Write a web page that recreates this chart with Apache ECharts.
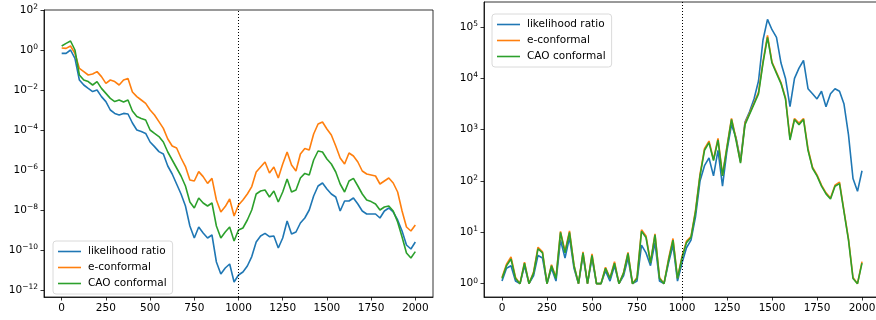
<!DOCTYPE html>
<html>
<head>
<meta charset="utf-8">
<script src="https://cdn.jsdelivr.net/npm/echarts@6.0.0/dist/echarts.min.js"></script>
<style>
  html, body { margin: 0; padding: 0; background: #fff; }
  #chart { width: 876px; height: 320px; }
</style>
</head>
<body>
<div id="chart"></div>
<script>
// time steps (x) shared by all series
const steps = [0,25,50,75,100,125,150,175,200,225,250,275,300,325,350,375,400,425,450,475,
  500,525,550,575,600,625,650,675,700,725,750,775,800,825,850,875,900,925,950,975,
  1000,1025,1050,1075,1100,1125,1150,1175,1200,1225,1250,1275,1300,1325,1350,1375,1400,1425,1450,1475,
  1500,1525,1550,1575,1600,1625,1650,1675,1700,1725,1750,1775,1800,1825,1850,1875,1900,1925,1950,1975,2000]

const names = ['likelihood ratio', 'e-conformal', 'CAO conformal']
const colors = ['#1f77b4', '#ff7f0e', '#2ca02c']

// left panel, values as powers of ten (log10 of the value)
const leftLR = [-0.17,-0.17,0,-0.42,-1.5,-1.75,-1.92,-2.08,-2,-2.33,
  -2.58,-3,-3.17,-3.25,-3.17,-3.2,-3.65,-4,-4.08,-4.17,
  -4.6,-4.83,-5.08,-5.2,-5.8,-6.2,-6.7,-7.2,-7.8,-8.8,
  -9.4,-8.85,-9.15,-9.4,-9.25,-10.6,-11.2,-10.9,-10.7,-11.6,
  -11.25,-11.1,-10.8,-10.33,-9.6,-9.3,-9.17,-9.33,-9.3,-9.9,
  -9.4,-8.55,-9.2,-9.1,-8.65,-8.4,-8,-7.3,-6.8,-6.65,
  -6.95,-7.2,-7.35,-8.05,-7.55,-7.55,-7.4,-7.7,-8.05,-8.2,
  -8.2,-8.2,-8.4,-8.05,-7.9,-8.1,-8.5,-9.05,-9.75,-9.95,
  -9.6]
const leftE = [0.1,0.08,0.2,-0.17,-0.92,-1.08,-1.25,-1.2,-1.08,-1.33,
  -1.67,-1.5,-1.58,-1.75,-1.5,-1.42,-2.1,-2.33,-2.5,-2.67,
  -3,-3.25,-3.58,-3.92,-4.45,-4.8,-4.9,-5.4,-5.83,-6.5,
  -6.55,-6.08,-6.33,-6.67,-6.42,-7.5,-8.1,-7.83,-7.45,-8.3,
  -7.75,-7.5,-7.2,-6.83,-6.1,-5.85,-5.6,-6.15,-5.85,-6.4,
  -5.7,-5.1,-5.75,-6.05,-5.2,-4.92,-5,-4.2,-3.7,-3.6,
  -3.95,-4.25,-4.8,-5.4,-5.7,-5.15,-5.3,-5.6,-6.05,-6.2,
  -6.25,-6.3,-6.7,-6.55,-6.4,-6.65,-7.1,-8.05,-8.85,-9.05,
  -8.75]
const leftCAO = [0.2,0.33,0.45,0,-1.25,-1.5,-1.58,-1.75,-1.58,-1.92,
  -2.17,-2.42,-2.58,-2.5,-2.6,-2.5,-3.05,-3.33,-3.42,-3.5,
  -4,-4.17,-4.33,-4.6,-5.1,-5.5,-5.9,-6.3,-6.8,-7.6,
  -7.9,-7.4,-7.65,-7.8,-7.65,-8.8,-9.4,-9.1,-8.85,-9.55,
  -9,-8.9,-8.5,-8,-7.2,-7.05,-7,-7.35,-7.05,-7.6,
  -7.1,-6.45,-7.1,-7,-6.4,-6.17,-6.25,-5.5,-5.05,-5.1,
  -5.45,-5.7,-6.1,-6.7,-7.1,-6.55,-6.42,-6.8,-7.2,-7.5,
  -7.58,-7.7,-8,-7.85,-7.8,-8.05,-8.6,-9.35,-10.15,-10.4,
  -10.08]

// right panel, log10 values
const rightLR = [0.05,0.3,0.35,0.05,0,0.35,0,0.15,0.55,0.5,
  0,0.3,0.05,0.85,0.5,0.9,0.3,0,0.55,0,
  0.5,0,0,0.25,0.05,0.35,0,0.15,0.5,0,
  0.05,0.75,0.6,0.35,0.8,0.05,0,0.4,0.75,0.05,
  0.4,0.7,0.85,1.3,2.0,2.3,2.45,2.1,2.6,1.9,
  2.6,3.1,2.85,2.4,3.15,3.35,3.6,3.95,4.75,5.15,
  4.95,4.8,4.3,4.0,3.45,4.0,4.2,4.35,3.8,3.7,
  3.6,3.75,3.45,3.7,3.8,3.75,3.5,2.9,2.05,1.8,
  2.2]
const rightE = [0.12,0.38,0.52,0.12,0,0.42,0,0.22,0.71,0.62,
  0,0.37,0.12,1.02,0.63,1.03,0.36,0,0.62,0,
  0.58,0,0,0.32,0.11,0.43,0,0.21,0.61,0,
  0.12,1.05,0.93,0.42,0.97,0.12,0,0.48,0.88,0.11,
  0.53,0.83,0.92,1.43,2.13,2.63,2.78,2.42,2.83,2.12,
  2.68,3.22,2.83,2.37,3.13,3.32,3.52,3.73,4.33,4.84,
  4.32,4.12,3.92,3.62,2.83,3.22,3.13,3.22,2.63,2.27,
  2.12,1.92,1.77,1.67,1.92,1.98,1.42,0.87,0.12,0,
  0.43]
const rightCAO = [0.1,0.35,0.48,0.1,0,0.4,0,0.2,0.68,0.6,
  0,0.35,0.1,1.0,0.6,1.0,0.35,0,0.6,0,
  0.55,0,0,0.3,0.1,0.4,0,0.2,0.59,0,
  0.1,1.02,0.9,0.4,0.95,0.1,0,0.45,0.85,0.1,
  0.5,0.8,0.9,1.4,2.1,2.6,2.75,2.4,2.8,2.1,
  2.65,3.2,2.8,2.35,3.1,3.3,3.5,3.7,4.3,4.8,
  4.3,4.1,3.9,3.6,2.8,3.2,3.1,3.2,2.6,2.25,
  2.1,1.9,1.75,1.65,1.9,1.95,1.4,0.85,0.1,0,
  0.4]

const xTicks = [0,250,500,750,1000,1250,1500,1750,2000]
const leftYTicks = [-12,-10,-8,-6,-4,-2,0,2]
const rightYTicks = [0,1,2,3,4,5]
const changePoint = 1000

const font = 'DejaVu Sans'

function pairs(vals) {
  return steps.map((t, i) => [t, vals[i]])
}

function powLabel(v) {
  let e = v < 0 ? '\u2212' + (-v) : '' + v
  return '{b|10}{e|' + e + '}'
}

function xAxisFor(idx) {
  return {
    type: 'value', gridIndex: idx, min: -100, max: 2100,
    splitLine: {show: false},
    axisLine: {show: true, onZero: false, lineStyle: {color: '#000', width: 0.8}},
    axisTick: {show: true, length: 3.5, lineStyle: {color: '#000', width: 0.8}, customValues: xTicks},
    axisLabel: {customValues: xTicks, color: '#000', fontSize: 10.5, fontFamily: font, margin: 6,
      formatter: v => '' + v}
  }
}

function yAxisFor(idx, lo, hi, ticks) {
  return {
    type: 'value', gridIndex: idx, min: lo, max: hi,
    splitLine: {show: false},
    axisLine: {show: true, onZero: false, lineStyle: {color: '#000', width: 0.8}},
    axisTick: {show: true, length: 3.5, lineStyle: {color: '#000', width: 0.8}, customValues: ticks},
    axisLabel: {
      customValues: ticks, color: '#000', margin: 6,
      formatter: powLabel,
      rich: {
        b: {fontSize: 10.5, fontFamily: font, color: '#000', lineHeight: 14},
        e: {fontSize: 7.5, fontFamily: font, color: '#000', lineHeight: 6, verticalAlign: 'top'}
      }
    }
  }
}

function lineSeries(name, color, vals, idx, mark) {
  let s = {
    name: name, type: 'line', xAxisIndex: idx, yAxisIndex: idx,
    data: pairs(vals), symbol: 'none', showSymbol: false,
    lineStyle: {color: color, width: 1.6}, itemStyle: {color: color},
    animation: false
  }
  if (mark) {
    s.markLine = {
      silent: true, symbol: ['none', 'none'], animation: false,
      label: {show: false},
      lineStyle: {color: '#000', type: [1, 2], width: 1},
      data: [{xAxis: changePoint}]
    }
  }
  return s
}

function legendAt(left, top) {
  return {
    left: left, top: top, orient: 'vertical', data: names,
    icon: 'rect', itemWidth: 23, itemHeight: 1.6, itemGap: 3,
    padding: [4, 6, 4, 5],
    borderColor: '#d0d0d0', borderWidth: 0.8, borderRadius: 3,
    backgroundColor: 'rgba(255,255,255,0.8)',
    textStyle: {fontSize: 10.5, fontFamily: font, color: '#000', lineHeight: 13, padding: [0, 0, 0, 2]}
  }
}

const gridStyle = {show: true, borderColor: '#000', borderWidth: 0.8, backgroundColor: 'transparent', containLabel: false, outerBoundsMode: 'none'}

let myChart = echarts.init(document.getElementById('chart'))
let option = {
  animation: false,
  color: colors,
  grid: [
    Object.assign({left: 44, top: 10, width: 389, height: 287}, gridStyle),
    Object.assign({left: 484, top: 2, width: 396, height: 295}, gridStyle)
  ],
  xAxis: [xAxisFor(0), xAxisFor(1)],
  yAxis: [yAxisFor(0, -12.35, 2, leftYTicks), yAxisFor(1, -0.26, 5.49, rightYTicks)],
  legend: [legendAt(53, 241), legendAt(492, 14)],
  series: [
    lineSeries(names[0], colors[0], leftLR, 0, true),
    lineSeries(names[1], colors[1], leftE, 0, false),
    lineSeries(names[2], colors[2], leftCAO, 0, false),
    lineSeries(names[0], colors[0], rightLR, 1, true),
    lineSeries(names[1], colors[1], rightE, 1, false),
    lineSeries(names[2], colors[2], rightCAO, 1, false)
  ]
}
myChart.setOption(option)
</script>
</body>
</html>
